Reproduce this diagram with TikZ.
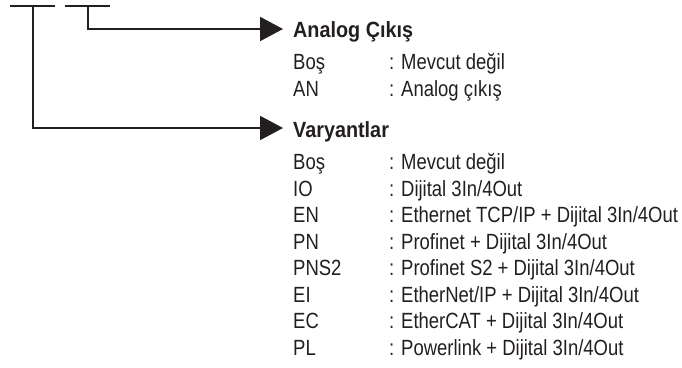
\documentclass[tikz,border=0pt]{standalone}
\usepackage{fontspec}
\setmainfont[FakeStretch=0.84,BoldFeatures={FakeStretch=0.9}]{Liberation Sans}
\usetikzlibrary{arrows.meta}
\definecolor{ink}{HTML}{231F20}
\tikzset{
  conn/.style={draw=ink, line width=2pt, -{Triangle[length=23pt,width=24pt]}},
  bar/.style={draw=ink, line width=2pt},
  head/.style={anchor=base west, inner sep=0pt, font=\fontsize{22}{24}\selectfont\bfseries, text=ink},
  code/.style={anchor=base west, inner sep=0pt, font=\fontsize{22}{24}\selectfont, text=ink},
}
\begin{document}
\begin{tikzpicture}[x=1pt,y=-1pt]
\useasboundingbox (0,0) rectangle (682,367);
% top bars
\coordinate (b1l) at (10,6);
\coordinate (b1r) at (55,6);
\coordinate (b1m) at (33,6);
\coordinate (b2l) at (65,6);
\coordinate (b2r) at (110,6);
\coordinate (b2m) at (88,6);
\draw[bar] (b1l) -- (b1r);
\draw[bar] (b2l) -- (b2r);
% heading tips
\coordinate (t1) at (283,29);
\coordinate (t2) at (283,128);
\draw[conn] (b2m) |- (t1);
\draw[conn] (b1m) |- (t2);
% texts
\def\cx{293}
\def\dx{389}
\node[head] (h1) at (\cx,37.5) {Analog Çıkış};
\node[code] (a1) at (\cx,69.5) {Boş};
\node[code] (a1d) at (\dx,69.5) {: Mevcut değil};
\node[code] (a2) at (\cx,96) {AN};
\node[code] (a2d) at (\dx,96) {: Analog çıkış};
\node[head] (h2) at (\cx,137.5) {Varyantlar};
\node[code] (v1) at (\cx,169.5) {Boş};
\node[code] (v1d) at (\dx,169.5) {: Mevcut değil};
\node[code] (v2) at (\cx,196) {IO};
\node[code] (v2d) at (\dx,196) {: Dijital 3In/4Out};
\node[code] (v3) at (\cx,222.5) {EN};
\node[code] (v3d) at (\dx,222.5) {: Ethernet TCP/IP + Dijital 3In/4Out};
\node[code] (v4) at (\cx,249) {PN};
\node[code] (v4d) at (\dx,249) {: Profinet + Dijital 3In/4Out};
\node[code] (v5) at (\cx,275.5) {PNS2};
\node[code] (v5d) at (\dx,275.5) {: Profinet S2 + Dijital 3In/4Out};
\node[code] (v6) at (\cx,302) {EI};
\node[code] (v6d) at (\dx,302) {: EtherNet/IP + Dijital 3In/4Out};
\node[code] (v7) at (\cx,328.5) {EC};
\node[code] (v7d) at (\dx,328.5) {: EtherCAT + Dijital 3In/4Out};
\node[code] (v8) at (\cx,355) {PL};
\node[code] (v8d) at (\dx,355) {: Powerlink + Dijital 3In/4Out};
\end{tikzpicture}
\end{document}
